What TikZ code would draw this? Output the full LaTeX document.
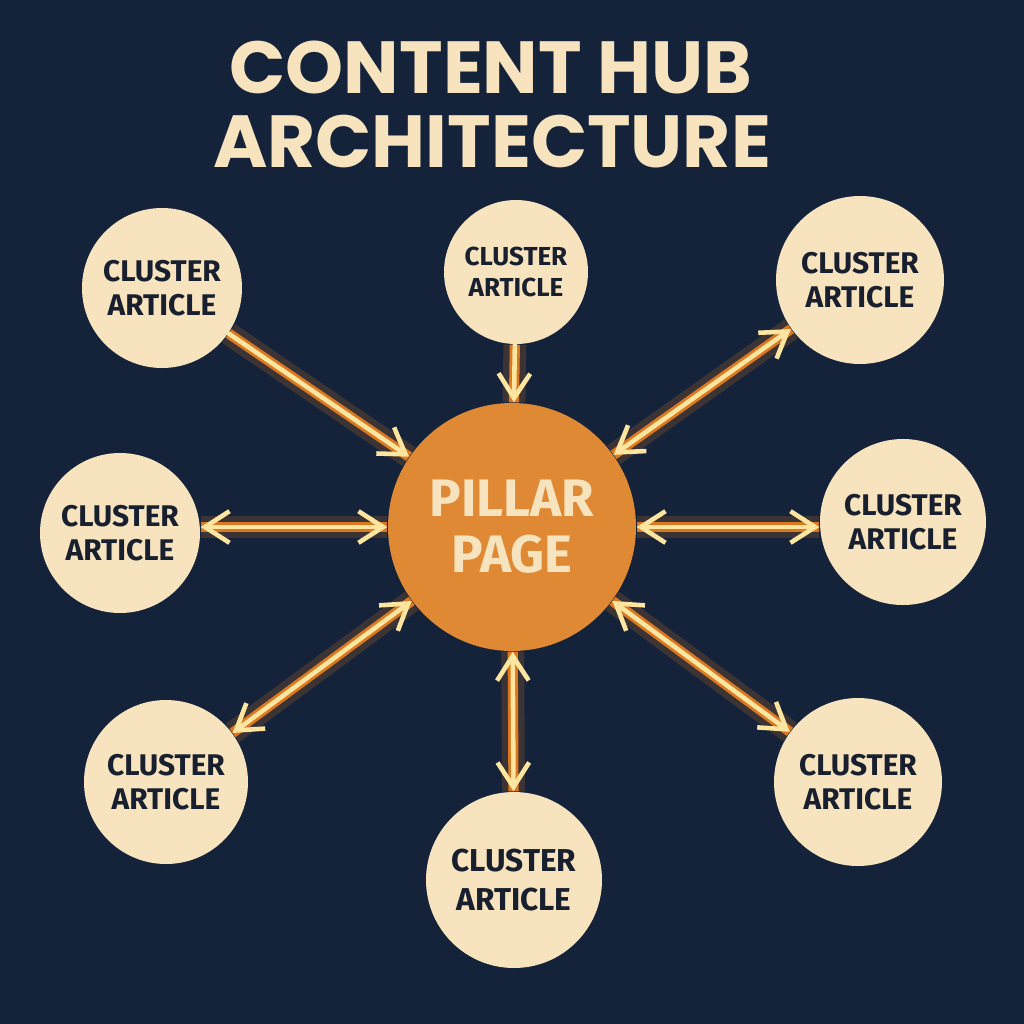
\documentclass[tikz,border=0pt]{standalone}
\usepackage{fontspec}
\setmainfont{Fira Sans}
\newfontfamily\titlefont{Poppins}
\usetikzlibrary{arrows.meta}

\definecolor{navy}{HTML}{14233A}
\definecolor{cream}{HTML}{F7E3BE}
\definecolor{pillarorange}{HTML}{E08934}
\definecolor{glow}{HTML}{F7841E}
\definecolor{beam}{HTML}{FFE6A0}
\definecolor{ink}{HTML}{18202F}

\tikzset{
  cluster/.style={circle, fill=cream, inner sep=0pt, align=center, text=ink,
    font=\bfseries\fontsize{8.5}{9.8}\selectfont},
  pillar/.style={circle, fill=pillarorange, inner sep=0pt, align=center, text=cream,
    minimum size=2.48cm, font=\bfseries\fontsize{15}{16}\selectfont},
  title/.style={text=cream, font=\titlefont\bfseries\fontsize{21}{21}\selectfont},
  link/.style={beam, line width=1.3pt, line cap=round,
    arrows={-Straight Barb[length=7pt, width=9pt]},
    preaction={draw=glow, arrows=-, line width=6.5pt, opacity=0.18},
    preaction={draw=glow, arrows=-, line width=2.9pt, opacity=0.85}},
  twoway/.style={link, arrows={Straight Barb[length=7pt, width=9pt]-Straight Barb[length=7pt, width=9pt]}}
}

\begin{document}
\begin{tikzpicture}
    \useasboundingbox (0,0) rectangle (10.24,-10.24);
    \fill[navy] (0,0) rectangle (10.24,-10.24);

    % title
    \node[title, anchor=base] (title) at (4.91,-0.93) {CONTENT HUB};
    \node[title, anchor=base] (subtitle) at (4.92,-1.67) {ARCHITECTURE};

    % hub
    \node[pillar] (pillar) at (5.12,-5.27) {PILLAR\\PAGE};

    % spokes
    \node[cluster, minimum size=1.60cm] (topleft) at (1.62,-2.88) {CLUSTER\\ARTICLE};
    \node[cluster, minimum size=1.44cm, font=\bfseries\fontsize{7.4}{9}\selectfont] (top) at (5.16,-2.72) {CLUSTER\\ARTICLE};
    \node[cluster, minimum size=1.68cm] (topright) at (8.60,-2.80) {CLUSTER\\ARTICLE};
    \node[cluster, minimum size=1.60cm] (left) at (1.20,-5.33) {CLUSTER\\ARTICLE};
    \node[cluster, minimum size=1.66cm] (right) at (9.03,-5.22) {CLUSTER\\ARTICLE};
    \node[cluster, minimum size=1.64cm] (bottomleft) at (1.66,-7.82) {CLUSTER\\ARTICLE};
    \node[cluster, minimum size=1.76cm, font=\bfseries\fontsize{9}{11}\selectfont] (bottom) at (5.14,-8.80) {CLUSTER\\ARTICLE};
    \node[cluster, minimum size=1.68cm] (bottomright) at (8.58,-7.82) {CLUSTER\\ARTICLE};

    % links
    \draw[link] (topleft) -- (pillar);
    \draw[link] (top) -- (pillar);
    \draw[twoway] (pillar) -- (topright);
    \draw[twoway] (pillar.west) -- (left.east |- pillar.west);
    \draw[twoway] (pillar.east) -- (right.west |- pillar.east);
    \draw[twoway] (pillar) -- (bottomleft);
    \draw[twoway] (pillar) -- (bottom);
    \draw[twoway] (pillar) -- (bottomright);
\end{tikzpicture}
\end{document}
